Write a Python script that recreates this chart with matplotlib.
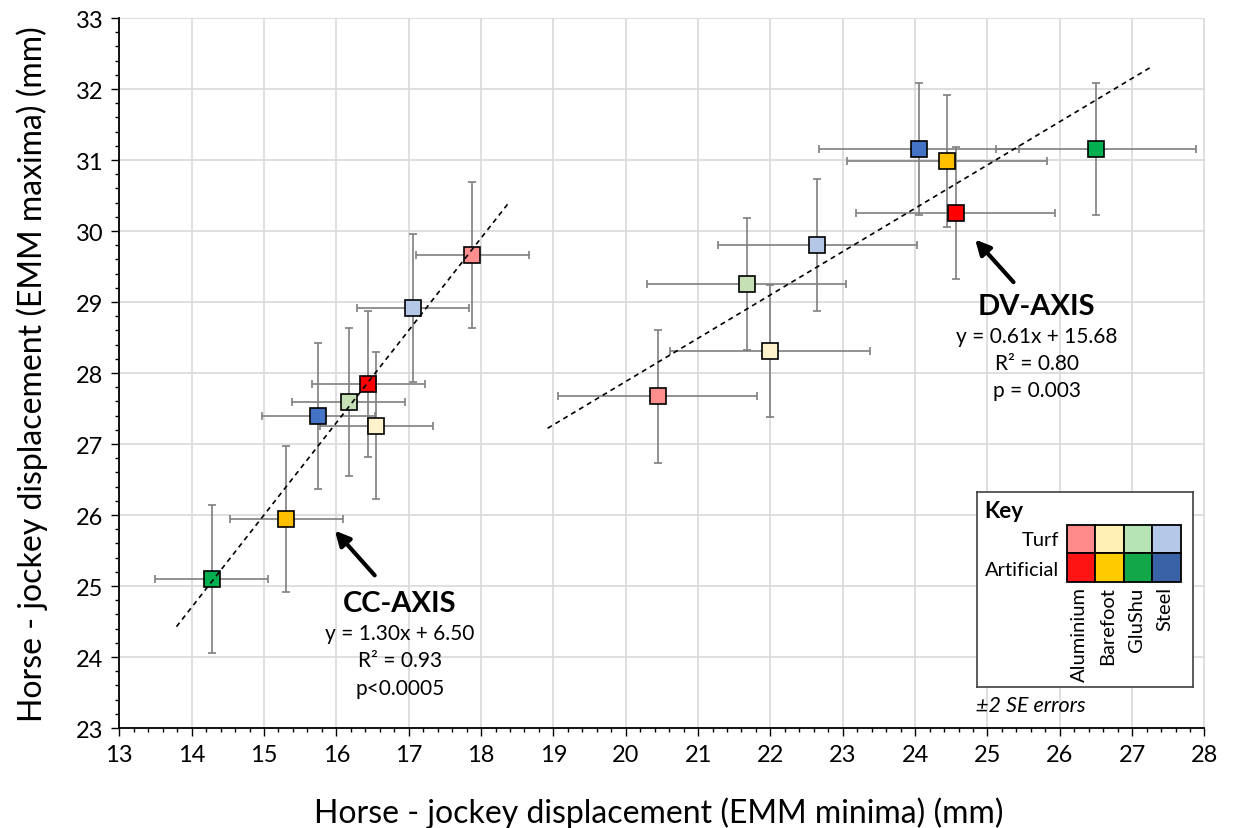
import numpy as np
import matplotlib
matplotlib.use("Agg")
import matplotlib.pyplot as plt
from matplotlib.patches import Rectangle
from matplotlib.ticker import MultipleLocator

plt.rcParams['font.family'] = ['Lato', 'DejaVu Sans']

# grupos: Turf (Aluminium, Barefoot, GluShu, Steel) depois Artificial (mesma ordem)
shoes = ['Aluminium', 'Barefoot', 'GluShu', 'Steel']
surfaces = ['Turf', 'Artificial']
cores = ['#FF8F8F', '#FFF2CC', '#C5E0B4', '#B4C7E7',
         '#FF0000', '#FFC000', '#00B050', '#4472C4']
cores_key = ['#FF8B8B', '#FFF0B3', '#B7E4B4', '#B4C8E8',
             '#FF1414', '#FFCC00', '#12A84A', '#3A62A6']

# eixo CC
cc_x = [17.88, 16.55, 16.17, 17.06, 16.44, 15.31, 14.28, 15.75]
cc_y = [29.66, 27.26, 27.59, 28.92, 27.84, 25.94, 25.10, 27.39]
cc_xerr = [0.78, 0.78, 0.78, 0.78, 0.78, 0.78, 0.78, 0.78]
cc_yerr = [1.03, 1.04, 1.04, 1.04, 1.03, 1.03, 1.04, 1.03]

# eixo DV
dv_x = [20.44, 21.99, 21.67, 22.65, 24.56, 24.44, 26.50, 24.05]
dv_y = [27.67, 28.31, 29.25, 29.80, 30.26, 30.98, 31.15, 31.15]
dv_xerr = [1.38, 1.38, 1.38, 1.38, 1.38, 1.38, 1.38, 1.38]
dv_yerr = [0.94, 0.93, 0.93, 0.93, 0.93, 0.93, 0.93, 0.93]

# linhas de tendencia (inclinacao, intercepto, x inicial, x final)
cc_fit = (1.30, 6.50, 13.79, 18.38)
dv_fit = (0.61, 15.68, 18.92, 27.26)

cc_txt = ['CC-AXIS', 'y = 1.30x + 6.50', 'R² = 0.93', 'p<0.0005']
dv_txt = ['DV-AXIS', 'y = 0.61x + 15.68', 'R² = 0.80', 'p = 0.003']

fig = plt.figure(figsize=(12.33, 8.29), dpi=100)
ax = fig.add_axes([119.3/1233, 1-729/829, 1085.2/1233, 710/829])

for xs, ys, xe, ye in [(cc_x, cc_y, cc_xerr, cc_yerr), (dv_x, dv_y, dv_xerr, dv_yerr)]:
    ax.errorbar(xs, ys, xerr=xe, yerr=ye, fmt='none', ecolor='#7F7F7F',
                elinewidth=1.2, capsize=2.6, capthick=1.2, zorder=2)
    for i in range(len(xs)):
        ax.plot(xs[i], ys[i], marker='s', ms=11.5, mfc=cores[i], mec='black',
                mew=1.2, ls='none', zorder=3)

for a, b, x0, x1 in [cc_fit, dv_fit]:
    xx = np.array([x0, x1])
    ax.plot(xx, a*xx + b, color='black', lw=1.2, ls=(0, (3, 2.5)), zorder=4)

# setas
ax.annotate('', xy=(15.98, 25.78), xytext=(16.53, 25.15),
            arrowprops=dict(arrowstyle='-|>', lw=3, color='black', mutation_scale=22, shrinkA=0, shrinkB=0))
ax.annotate('', xy=(24.83, 29.88), xytext=(25.36, 29.28),
            arrowprops=dict(arrowstyle='-|>', lw=3, color='black', mutation_scale=22, shrinkA=0, shrinkB=0))

# textos das regressoes
for txt, xc, ybs in [(cc_txt, 16.88, [24.65, 24.26, 23.87, 23.48]),
                     (dv_txt, 25.68, [28.83, 28.43, 28.05, 27.68])]:
    ax.text(xc, ybs[0], txt[0], ha='center', va='baseline', fontsize=21, fontweight='bold', zorder=5)
    for t, yb in zip(txt[1:], ybs[1:]):
        ax.text(xc, yb, t, ha='center', va='baseline', fontsize=15, zorder=5)

ax.set_xlim(13, 28)
ax.set_ylim(23, 33)
ax.set_xticks(range(13, 29))
ax.set_yticks(range(23, 34))
ax.xaxis.set_minor_locator(MultipleLocator(0.2))
ax.yaxis.set_minor_locator(MultipleLocator(0.2))
ax.tick_params(which='major', direction='out', length=5.5, width=1, labelsize=17, pad=6)
ax.tick_params(which='minor', direction='out', length=3, width=1)
ax.grid(which='major', color='#D9D9D9', lw=1.2)
ax.set_axisbelow(True)
for s in ['top', 'right']:
    ax.spines[s].set_visible(False)
for s in ['left', 'bottom']:
    ax.spines[s].set_linewidth(1.3)

ax.set_xlabel('Horse - jockey displacement (EMM minima) (mm)', fontsize=23)
ax.xaxis.label.set_va('baseline')
ax.xaxis.set_label_coords(0.497, -0.133)
ax.set_ylabel('Horse - jockey displacement (EMM maxima) (mm)', fontsize=23)
ax.yaxis.label.set_va('baseline')
ax.yaxis.set_label_coords(-0.071, 0.50)

# legenda (Key)
kx = fig.add_axes([976.7/1233, 1-688.3/829, 216/1233, 195.6/829])
kx.set_xlim(0, 216)
kx.set_ylim(195.6, 0)
kx.set_xticks([])
kx.set_yticks([])
for s in kx.spines.values():
    s.set_color('#404040')
    s.set_linewidth(1.2)
kx.text(7.3, 25, 'Key', fontsize=16, fontweight='bold', va='baseline')
for j, surf in enumerate(surfaces):
    kx.text(82.6, 53 + 30*j, surf, fontsize=14.5, ha='right', va='baseline')
    for i in range(4):
        kx.add_patch(Rectangle((90 + 28.5*i, 33 + 28.5*j), 28.5, 28.5,
                               facecolor=cores_key[4*j + i], edgecolor='black', lw=1.3))
for i, sh in enumerate(shoes):
    kx.text(90 + 28.5*i + 12.5, 94.6, sh, fontsize=14.5, rotation=90, ha='right',
            va='center', rotation_mode='anchor')

fig.text(976/1233, 1-712.3/829, '±2 SE errors', fontsize=15.5, style='italic', va='baseline')

fig.savefig('out.png', dpi=100)
